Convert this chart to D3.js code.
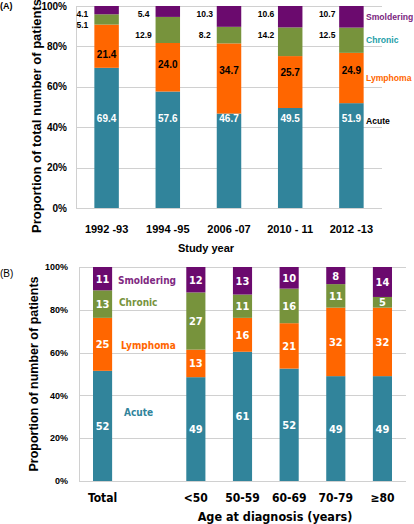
<!DOCTYPE html>
<html><head><meta charset="utf-8">
<script src="https://cdn.jsdelivr.net/npm/d3@7"></script>
<style>
html,body{margin:0;padding:0;background:#fff;}
svg{display:block;}
</style></head>
<body>
<svg id="chart" width="414" height="524"></svg>
<script>
// ---------- data ----------
const subtypes = ["Acute", "Lymphoma", "Chronic", "Smoldering"];
const yTicks = [0, 20, 40, 60, 80, 100];

// Panel A: by study year (%)
const studyYears = ["1992 -93", "1994 -95", "2006 -07", "2010 - 11", "2012 -13"];
const aAcute      = [69.4, 57.6, 46.7, 49.5, 51.9];
const aLymphoma   = [21.4, 24.0, 34.7, 25.7, 24.9];
const aChronic    = [5.1, 12.9, 8.2, 14.2, 12.5];
const aSmoldering = [4.1, 5.4, 10.3, 10.6, 10.7];

// Panel B: by age at diagnosis (%)
const ageGroups   = ["Total", "<50", "50-59", "60-69", "70-79", "≥80"];
const bAcute      = [52, 49, 61, 52, 49, 49];
const bLymphoma   = [25, 13, 16, 21, 32, 32];
const bChronic    = [13, 27, 11, 16, 11, 5];
const bSmoldering = [11, 12, 13, 10, 8, 14];

// ---------- styles ----------
const barColors = {Acute: "#31849B", Lymphoma: "#FF6600", Chronic: "#77933C", Smoldering: "#6B0A6E"};
const ARIAL = "'Liberation Sans', Arial, sans-serif";
const VERD = "'DejaVu Sans Condensed', 'DejaVu Sans', sans-serif";

const svg = d3.select("#chart");

function rows(cats, acute, lym, chr, smo) {
  return cats.map((c, i) => ({cat: c, Acute: acute[i], Lymphoma: lym[i], Chronic: chr[i], Smoldering: smo[i]}));
}
const stackGen = d3.stack().keys(subtypes).offset(d3.stackOffsetExpand);

function drawGrid(g, y, x0, x1, tickX, fontFamily, fontSize) {
  g.append("g").selectAll("line").data(yTicks).join("line")
    .attr("x1", x0).attr("x2", x1)
    .attr("y1", d => Math.round(y(d)) + 0.5).attr("y2", d => Math.round(y(d)) + 0.5)
    .attr("stroke", "#D0D0D0").attr("stroke-width", 1);
  g.append("line").attr("x1", x0 + 0.5).attr("x2", x0 + 0.5)
    .attr("y1", y(100)).attr("y2", y(0)).attr("stroke", "#D0D0D0");
  g.append("g").selectAll("text").data(yTicks).join("text")
    .attr("x", tickX).attr("y", d => y(d)).attr("dy", "0.35em")
    .attr("text-anchor", "end")
    .attr("font-family", fontFamily).attr("font-weight", "bold").attr("font-size", fontSize)
    .attr("fill", "#000").text(d => d + "%");
}

// ================= Panel A =================
(function () {
  const data = rows(studyYears, aAcute, aLymphoma, aChronic, aSmoldering);
  const series = stackGen(data);
  const x = d3.scaleBand().domain(studyYears).range([76, 382]).paddingInner(0.6).paddingOuter(0.3);
  const y = d3.scaleLinear().domain([0, 100]).range([208, 6]);
  const g = svg.append("g");

  drawGrid(g, y, 76, 382, 67, ARIAL, 10);

  const bw = x.bandwidth();
  g.append("g").selectAll("g").data(series).join("g")
    .attr("fill", s => barColors[s.key])
    .selectAll("rect").data(s => s).join("rect")
    .attr("x", d => x(d.data.cat)).attr("width", bw)
    .attr("y", d => y(d[1] * 100)).attr("height", d => y(d[0] * 100) - y(d[1] * 100));

  const byKey = {};
  series.forEach(s => byKey[s.key] = s);
  const lab = g.append("g").attr("font-family", ARIAL).attr("font-weight", "bold").attr("text-anchor", "middle");

  // Acute labels (white, fixed row)
  byKey.Acute.forEach(d => {
    lab.append("text").attr("x", x(d.data.cat) + bw / 2).attr("y", y(44.5)).attr("dy", "0.35em")
      .attr("font-size", 10).attr("fill", "#fff").text(d.data.Acute.toFixed(1));
  });
  // Lymphoma labels (black, upper part of segment)
  byKey.Lymphoma.forEach(d => {
    const top = y(d[1] * 100), bot = y(d[0] * 100);
    const yy = ((top + bot) / 2 + y(72)) / 2;
    lab.append("text").attr("x", x(d.data.cat) + bw / 2).attr("y", yy).attr("dy", "0.35em")
      .attr("font-size", 10).attr("fill", "#000").text(d.data.Lymphoma.toFixed(1));
  });
  // Smoldering / Chronic labels outside (left of bar)
  byKey.Smoldering.forEach(d => {
    lab.append("text").attr("x", x(d.data.cat) - 12).attr("y", y(96)).attr("dy", "0.35em")
      .attr("font-size", 8.5).attr("fill", "#000").text(d.data.Smoldering.toFixed(1));
  });
  byKey.Chronic.forEach(d => {
    const yy = Math.min(y(85.6), y(d[0] * 100));
    lab.append("text").attr("x", x(d.data.cat) - 12).attr("y", yy).attr("dy", "0.35em")
      .attr("font-size", 8.5).attr("fill", "#000").text(d.data.Chronic.toFixed(1));
  });

  // legend labels on the right, aligned with last bar
  const last = data.length - 1;
  const mid = k => (y(byKey[k][last][0] * 100) + y(byKey[k][last][1] * 100)) / 2;
  const legA = [
    {k: "Smoldering", y: mid("Smoldering"), c: "#7B1F80"},
    {k: "Chronic", y: mid("Chronic"), c: "#23A0A8"},
    {k: "Lymphoma", y: mid("Lymphoma"), c: "#FF6600"},
    {k: "Acute", y: y(44.5) + 3, c: "#000"}
  ];
  g.append("g").selectAll("text").data(legA).join("text")
    .attr("x", 366).attr("y", d => d.y).attr("dy", "0.35em")
    .attr("font-family", ARIAL).attr("font-weight", "bold").attr("font-size", 8.6)
    .attr("fill", d => d.c).text(d => d.k);

  // x tick labels
  g.append("g").selectAll("text").data(studyYears).join("text")
    .attr("x", d => x(d) + bw / 2).attr("y", 229).attr("dy", "0.35em")
    .attr("text-anchor", "middle").attr("font-family", ARIAL).attr("font-weight", "bold")
    .attr("font-size", 11).text(d => d);

  g.append("text").attr("x", 206).attr("y", 248).attr("dy", "0.35em").attr("text-anchor", "middle")
    .attr("font-family", ARIAL).attr("font-weight", "bold").attr("font-size", 11).text("Study year");

  g.append("text").attr("transform", "translate(36," + (y(50) + 9) + ") rotate(-90)")
    .attr("text-anchor", "middle").attr("dy", "0.35em")
    .attr("font-family", ARIAL).attr("font-weight", "bold").attr("font-size", 13)
    .text("Proportion of total number of patients");

  g.append("text").attr("x", 0).attr("y", 6).attr("dy", "0.35em")
    .attr("font-family", ARIAL).attr("font-weight", "bold").attr("font-size", 9).text("(A)");
})();

// ================= Panel B =================
(function () {
  const data = rows(ageGroups, bAcute, bLymphoma, bChronic, bSmoldering);
  const series = stackGen(data);
  const domain = [ageGroups[0], "__gap__"].concat(ageGroups.slice(1));
  const x = d3.scaleBand().domain(domain).range([79, 406]).paddingInner(0.59).paddingOuter(0.3);
  const y = d3.scaleLinear().domain([0, 100]).range([481, 267]);
  const g = svg.append("g");

  drawGrid(g, y, 79, 406, 68, ARIAL, 9);

  const bw = x.bandwidth();
  g.append("g").selectAll("g").data(series).join("g")
    .attr("fill", s => barColors[s.key])
    .selectAll("rect").data(s => s).join("rect")
    .attr("x", d => x(d.data.cat)).attr("width", bw)
    .attr("y", d => y(d[1] * 100)).attr("height", d => y(d[0] * 100) - y(d[1] * 100));

  // value labels centered in segments
  const lab = g.append("g").attr("font-family", VERD).attr("font-weight", "bold")
    .attr("text-anchor", "middle").attr("font-size", 11).attr("fill", "#fff");
  series.forEach(s => {
    s.forEach(d => {
      lab.append("text").attr("x", x(d.data.cat) + bw / 2)
        .attr("y", (y(d[0] * 100) + y(d[1] * 100)) / 2).attr("dy", "0.36em")
        .text(d.data[s.key]);
    });
  });

  // legend labels beside Total bar
  const mid = k => { const s = series.find(q => q.key === k)[0]; return (y(s[0] * 100) + y(s[1] * 100)) / 2; };
  const legB = [
    {k: "Smoldering", x: 118, y: mid("Smoldering") + 2, c: "#7F2A82"},
    {k: "Chronic", x: 119, y: mid("Chronic") - 2, c: "#77933C"},
    {k: "Lymphoma", x: 121, y: mid("Lymphoma") + 1, c: "#FF6600"},
    {k: "Acute", x: 124, y: mid("Acute") - 13, c: "#31849B"}
  ];
  g.append("g").selectAll("text").data(legB).join("text")
    .attr("x", d => d.x).attr("y", d => d.y).attr("dy", "0.35em")
    .attr("font-family", VERD).attr("font-weight", "bold").attr("font-size", 10)
    .attr("fill", d => d.c).text(d => d.k);

  g.append("g").selectAll("text").data(ageGroups).join("text")
    .attr("x", d => x(d) + bw / 2).attr("y", 498).attr("dy", "0.35em")
    .attr("text-anchor", "middle").attr("font-family", VERD).attr("font-weight", "bold")
    .attr("font-size", 12).text(d => d);

  g.append("text").attr("x", 275).attr("y", 517).attr("dy", "0.35em").attr("text-anchor", "middle")
    .attr("font-family", VERD).attr("font-weight", "bold").attr("font-size", 12.5)
    .text("Age at diagnosis (years)");

  g.append("text").attr("transform", "translate(34," + y(50) + ") rotate(-90)")
    .attr("text-anchor", "middle").attr("dy", "0.35em")
    .attr("font-family", ARIAL).attr("font-weight", "bold").attr("font-size", 12.5)
    .text("Proportion of number of patients");

  g.append("text").attr("x", 0).attr("y", 273).attr("dy", "0.35em")
    .attr("font-family", ARIAL).attr("font-size", 10).text("(B)");
})();
</script>
</body></html>
